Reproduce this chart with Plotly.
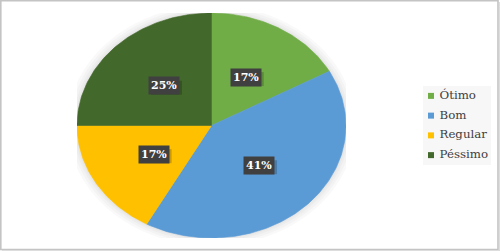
import numpy as np
import plotly.graph_objects as go

categories = ["Ótimo", "Bom", "Regular", "Péssimo"]
values = [17, 41, 17, 25]
colors = ["#70AD47", "#5B9BD5", "#FFC000", "#43682B"]

W, H = 500, 251
SERIF = "DejaVu Serif"


def fx(p):
    return p / W


def fy(p):
    return 1 - p / H


fig = go.Figure()

# soft shadow around the pie
t = np.linspace(0, 2 * np.pi, 240)
for s in [1.07, 1.05, 1.03, 1.015]:
    fig.add_trace(go.Scatter(x=s * np.sin(t), y=s * np.cos(t), fill="toself", mode="none",
                             fillcolor="rgba(0,0,0,0.022)", hoverinfo="skip", showlegend=False))

total = sum(values)
cum = 0.0
annotations = []
shapes = []
for cat, v, c in zip(categories, values, colors):
    a0 = cum / total * 2 * np.pi
    a1 = (cum + v) / total * 2 * np.pi
    tt = np.linspace(a0, a1, max(int(v * 4), 12))
    xs = np.concatenate([[0], np.sin(tt), [0]])
    ys = np.concatenate([[0], np.cos(tt), [0]])
    fig.add_trace(go.Scatter(x=xs, y=ys, fill="toself", mode="lines",
                             line=dict(width=0.6, color=c), fillcolor=c,
                             name=cat, hoverinfo="name", showlegend=False))
    mid = (a0 + a1) / 2
    lx, ly = 0.5 * np.sin(mid), 0.5 * np.cos(mid)
    txt = f"{round(v / total * 100)}%"
    shapes.append(dict(type="rect", xref="x", yref="y", xsizemode="pixel", ysizemode="pixel",
                       xanchor=lx, yanchor=ly, x0=-13, x1=18, y0=-9, y1=5,
                       fillcolor="rgba(0,0,0,0.2)", line=dict(width=0), layer="above"))
    annotations.append(dict(x=lx, y=ly, xref="x", yref="y", text=f"<b>{txt}</b>", showarrow=False,
                            font=dict(family=SERIF, size=11, color="white"),
                            bgcolor="#404040", borderpad=2))
    cum += v

fig.add_trace(go.Scatter(x=[0] * len(categories), y=categories, xaxis="x2", yaxis="y2",
                         mode="markers+text",
                         marker=dict(symbol="square", size=6, color=colors),
                         text=["\u00a0" + c for c in categories], textposition="middle right",
                         textfont=dict(family=SERIF, size=11.8, color="#404040"),
                         hoverinfo="skip", showlegend=False))

axis_off = dict(visible=False, showgrid=False, zeroline=False, fixedrange=True)

shapes = [
    dict(type="rect", xref="x2 domain", yref="y2 domain", x0=0, x1=1, y0=0, y1=1,
         fillcolor="#f7f7f7", line=dict(width=0), layer="below"),
    dict(type="rect", xref="paper", yref="paper", x0=fx(0.8), x1=fx(498), y0=fy(249.5), y1=fy(0.8),
         line=dict(color="#c4c4c4", width=1.6), fillcolor="rgba(0,0,0,0)"),
    dict(type="line", xref="paper", yref="paper", x0=fx(499.5), x1=fx(499.5), y0=fy(250.5), y1=fy(2),
         line=dict(color="#dddddd", width=1)),
    dict(type="line", xref="paper", yref="paper", x0=fx(2), x1=fx(500), y0=fy(250.5), y1=fy(250.5),
         line=dict(color="#dddddd", width=1)),
] + shapes

fig.update_layout(
    width=W, height=H,
    margin=dict(l=0, r=0, t=0, b=0),
    paper_bgcolor="white", plot_bgcolor="rgba(0,0,0,0)",
    showlegend=False,
    xaxis=dict(domain=[fx(77), fx(346)], range=[-1, 1], **axis_off),
    yaxis=dict(domain=[fy(238), fy(13)], range=[-1, 1], **axis_off),
    xaxis2=dict(domain=[fx(423), fx(491)], range=[-8, 60], anchor="y2", **axis_off),
    yaxis2=dict(domain=[fy(165), fy(86)], type="category", categoryorder="array",
                categoryarray=categories, range=[3.5, -0.5], anchor="x2", **axis_off),
    annotations=annotations,
    shapes=shapes,
)

fig.write_html("out.html", config={"displayModeBar": False},
               post_script="document.body.style.margin='0';document.body.style.overflow='hidden';")
